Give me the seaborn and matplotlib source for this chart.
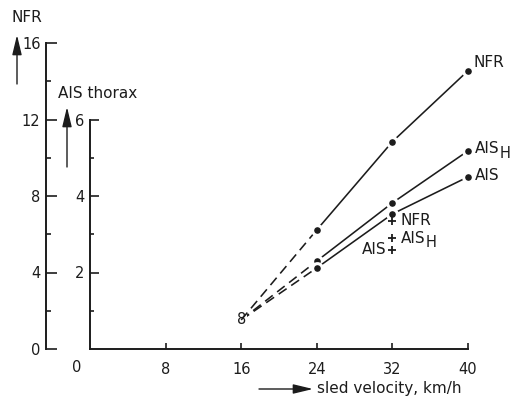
import matplotlib
matplotlib.use("Agg")
import matplotlib.pyplot as plt
import pandas as pd
import seaborn as sns

# Sled velocity (km/h) and measured injury values
velocity = [16, 24, 32, 40]
nfr = [1.52, 6.23, 10.84, 14.55]          # number of fractured ribs
ais_h = [0.76, 2.30, 3.82, 5.18]          # AIS_H thorax
ais = [0.76, 2.12, 3.53, 4.50]            # AIS thorax

# Single comparison results at 32 km/h
cross_velocity = 32
nfr_cross = 6.7
ais_h_cross = 2.9
ais_cross = 2.6

x_ticks = [8, 16, 24, 32, 40]
ais_ticks = [2, 4, 6]
ais_minor = [1, 3, 5]
nfr_ticks = [0, 4, 8, 12, 16]
nfr_minor = [2, 6, 10, 14]

INK = "#1c1c1c"
sns.set_style("white")
plt.rcParams["font.family"] = ["DejaVu Sans"]
plt.rcParams["text.color"] = INK
plt.rcParams["xtick.color"] = INK
plt.rcParams["ytick.color"] = INK

W, H = 516, 398
fig = plt.figure(figsize=(W / 100, H / 100), dpi=100)


def fx(px):
    return px / W


def fy(py):
    return 1 - py / H


ax = fig.add_axes([fx(90), fy(349), (468 - 90) / W, (349 - 43) / H])
ax.set_xlim(0, 40)
ax.set_ylim(0, 8)
nfr_ax = ax.twinx()
nfr_ax.set_ylim(0, 16)

LW = 1.15
DASH = (0, (6, 3.5))


def draw_series(axis, values):
    sns.lineplot(x=velocity[:2], y=values[:2], ax=axis, color=INK, lw=LW,
                 linestyle=DASH, zorder=2)
    sns.lineplot(x=velocity[1:], y=values[1:], ax=axis, color=INK, lw=LW,
                 marker="o", markersize=7, markerfacecolor=INK,
                 markeredgecolor="white", markeredgewidth=2.2,
                 clip_on=False, zorder=3)
    axis.set_xlabel("")
    axis.set_ylabel("")


draw_series(nfr_ax, nfr)
draw_series(ax, ais_h)
draw_series(ax, ais)

# Coincident start values at 16 km/h
ax.text(velocity[0], ais[0], "8", ha="center", va="center", fontsize=10.5,
        bbox=dict(fc="white", ec="none", pad=0.6), zorder=6)

# Single comparison results (crosses)
sns.scatterplot(x=[cross_velocity], y=[nfr_cross], ax=nfr_ax, marker="+",
                s=28, color=INK, linewidth=1.3, zorder=4, clip_on=False)
sns.scatterplot(x=[cross_velocity, cross_velocity], y=[ais_h_cross, ais_cross],
                ax=ax, marker="+", s=28, color=INK, linewidth=1.3, zorder=4)
ax.set_xlabel("")
ax.set_ylabel("")
nfr_ax.set_ylabel("")

FS = 11


def ais_h_label(axis, xy, offset):
    base = axis.annotate("AIS", xy, xytext=offset, textcoords="offset points",
                         ha="left", va="center", fontsize=FS,
                         annotation_clip=False)
    axis.annotate("H", xy=(1, 0), xycoords=base, xytext=(0.3, -3.2),
                  textcoords="offset points", ha="left", va="bottom",
                  fontsize=FS - 0.5, annotation_clip=False)


ax.annotate("NFR", (cross_velocity, nfr_cross / 2), xytext=(6, 0),
            textcoords="offset points", ha="left", va="center", fontsize=FS)
ais_h_label(ax, (cross_velocity, ais_h_cross), (6, 0))
ax.annotate("AIS", (cross_velocity, ais_cross), xytext=(-4, 0),
            textcoords="offset points", ha="right", va="center", fontsize=FS)

# Series end labels
nfr_ax.annotate("NFR", (velocity[-1], nfr[-1]), xytext=(4, 6),
                textcoords="offset points", ha="left", va="center",
                fontsize=FS, annotation_clip=False)
ais_h_label(ax, (velocity[-1], ais_h[-1]), (5, 1.5))
ax.annotate("AIS", (velocity[-1], ais[-1]), xytext=(5, 1),
            textcoords="offset points", ha="left", va="center",
            fontsize=FS, annotation_clip=False)

# AIS axis (inner) and velocity axis
for s in ["top", "right"]:
    ax.spines[s].set_visible(False)
ax.spines["left"].set_bounds(0, 6)
ax.spines["left"].set_linewidth(1.4)
ax.spines["bottom"].set_linewidth(1.4)
ax.spines["left"].set_color(INK)
ax.spines["bottom"].set_color(INK)
ax.set_yticks(ais_ticks)
ax.set_yticks(ais_minor, minor=True)
ax.set_yticklabels([str(t) for t in ais_ticks])
ax.set_xticks(x_ticks)
ax.set_xticklabels([str(t) for t in x_ticks])
ax.tick_params(axis="y", which="major", direction="in", length=6.5, width=1.2,
               pad=4, labelsize=10.5, left=True)
ax.tick_params(axis="y", which="minor", direction="in", length=3, width=1.2,
               left=True)
ax.tick_params(axis="x", which="major", direction="in", length=4.5, width=1.2,
               pad=9, labelsize=10.5, bottom=True)
fig.text(fx(77), fy(367), "0", ha="center", va="center", fontsize=10.5)

# NFR axis (outer), 44 px left of the AIS axis
for s in ["top", "right", "bottom"]:
    nfr_ax.spines[s].set_visible(False)
nfr_ax.spines["left"].set_visible(True)
nfr_ax.spines["left"].set_position(("outward", 44 * 0.72))
nfr_ax.spines["left"].set_bounds(0, 16)
nfr_ax.spines["left"].set_linewidth(1.4)
nfr_ax.spines["left"].set_color(INK)
nfr_ax.yaxis.set_ticks_position("left")
nfr_ax.set_yticks(nfr_ticks)
nfr_ax.set_yticks(nfr_minor, minor=True)
nfr_ax.set_yticklabels([str(t) for t in nfr_ticks])
nfr_ax.tick_params(axis="y", which="major", direction="in", length=8, width=1.2,
                   pad=4, labelsize=10.5, left=True, right=False)
nfr_ax.tick_params(axis="y", which="minor", direction="in", length=3.5,
                   width=1.2, left=True, right=False)

# Axis titles with arrows
fig.text(fx(27), fy(18), "NFR", ha="center", va="center", fontsize=FS)
fig.text(fx(98), fy(93), "AIS thorax", ha="center", va="center", fontsize=FS)
fig.text(fx(317), fy(389), "sled velocity, km/h", ha="left", va="center",
         fontsize=FS)

arrow = dict(arrowstyle="-|>,head_length=1.0,head_width=0.24", lw=1.0,
             color=INK, mutation_scale=12, shrinkA=0, shrinkB=0)
fig.add_artist(plt.Annotation("", xy=(fx(17), fy(35)), xytext=(fx(17), fy(84)),
                              xycoords="figure fraction",
                              textcoords="figure fraction", arrowprops=arrow))
fig.add_artist(plt.Annotation("", xy=(fx(67), fy(107)), xytext=(fx(67), fy(167)),
                              xycoords="figure fraction",
                              textcoords="figure fraction", arrowprops=arrow))
fig.add_artist(plt.Annotation("", xy=(fx(313), fy(389)), xytext=(fx(259), fy(389)),
                              xycoords="figure fraction",
                              textcoords="figure fraction", arrowprops=arrow))

fig.savefig("out.png", dpi=100, facecolor="white")
